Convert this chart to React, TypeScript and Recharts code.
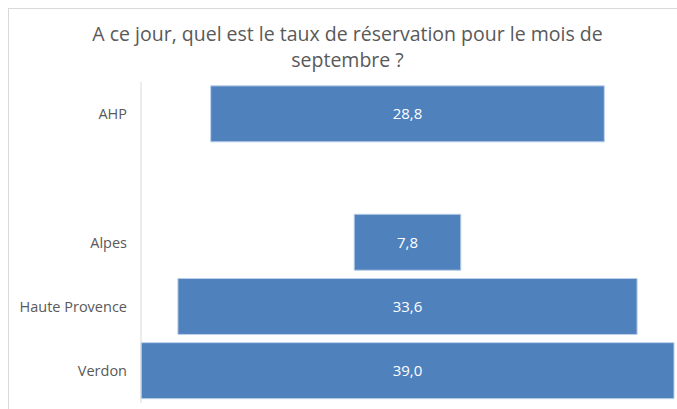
import { Bar, BarChart, LabelList, XAxis, YAxis } from "recharts";

const categories = ["AHP", "", "Alpes", "Haute Provence", "Verdon"];
const rates = [28.8, null, 7.8, 33.6, 39.0];
const maxRate = 39.0;

const data = categories.map((name, i) => {
  const v = rates[i];
  return {
    name,
    offset: v == null ? null : (maxRate - v) / 2,
    value: v,
  };
});

const fmt = (v: unknown) => (typeof v === "number" ? v.toFixed(1).replace(".", ",") : "");
const font = "'Open Sans', sans-serif";

export default function App() {
  return (
    <div style={{ width: 677, height: 409, padding: "8px 0 0 8px", boxSizing: "border-box", overflow: "hidden" }}>
      <style>{"html,body{margin:0;overflow:hidden}"}</style>
      <div
        style={{
          position: "relative",
          width: 669,
          height: 401,
          borderTop: "1px solid #d9d9d9",
          borderLeft: "1px solid #d9d9d9",
          boxSizing: "border-box",
          fontFamily: font,
          background: "#fff",
        }}
      >
        <div
          style={{
            position: "absolute",
            left: 0,
            top: 12,
            width: 677,
            textAlign: "center",
            fontSize: 19.5,
            lineHeight: "26px",
            color: "#595959",
          }}
        >
          A ce jour, quel est le taux de réservation pour le mois de
          <br />
          septembre ?
        </div>
        <div style={{ position: "absolute", left: 0, top: 0 }}>
          <BarChart
            width={668}
            height={400}
            data={data}
            layout="vertical"
            margin={{ top: 73, right: 3, bottom: 6, left: 0 }}
            barCategoryGap="6%"
          >
            <XAxis type="number" domain={[0, maxRate]} hide />
            <YAxis
              type="category"
              dataKey="name"
              width={132}
              axisLine={{ stroke: "#d9d9d9" }}
              tickLine={false}
              tickMargin={8}
              interval={0}
              tick={{ fill: "#595959", fontSize: 14.5, fontFamily: font }}
            />
            <Bar dataKey="offset" stackId="f" fill="transparent" isAnimationActive={false} />
            <Bar
              dataKey="value"
              stackId="f"
              fill="#4f81bd"
              stroke="#bcd0ea"
              strokeWidth={1}
              isAnimationActive={false}
            >
              <LabelList
                dataKey="value"
                position="center"
                formatter={fmt}
                fill="#ffffff"
                fontSize={15}
                fontFamily={font}
              />
            </Bar>
          </BarChart>
        </div>
      </div>
    </div>
  );
}
